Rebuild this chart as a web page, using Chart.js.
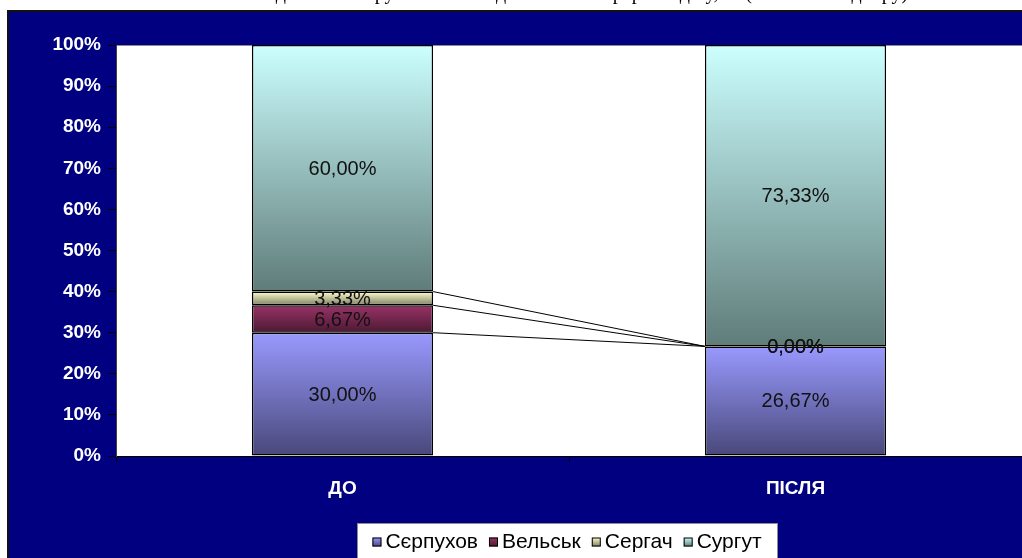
<!DOCTYPE html>
<html><head><meta charset="utf-8">
<script src="https://cdn.jsdelivr.net/npm/chart.js@4"></script>
<style>html,body{margin:0;padding:0;background:#fff;overflow:hidden}</style>
</head><body>
<canvas id="c" width="1022" height="558"></canvas>
<script>
const categories = ['ДО', 'ПІСЛЯ'];
const seriesNames = ['Сєрпухов', 'Вельськ', 'Сергач', 'Сургут'];
const serpukhov = [30.00, 26.67];
const velsk = [6.67, 0.00];
const sergach = [3.33, 0.00];
const surgut = [60.00, 73.33];
const yTicks = [0, 10, 20, 30, 40, 50, 60, 70, 80, 90, 100];
const titleText = 'Співвідношення груп по містах до та після перерозподілу, % (за містом відбору)';

const topColors = ['#9999FF', '#993366', '#FFFFCC', '#CCFFFF'];
const bottomColors = ['#48487A', '#4C1933', '#7E7E66', '#5F7C79'];
const seriesValues = [serpukhov, velsk, sergach, surgut];

function gradFill(si) {
  return (ctx) => {
    const ch = ctx.chart;
    const y = ch.scales && ch.scales.y;
    if (!y || ctx.type !== 'data') return topColors[si];
    const i = ctx.dataIndex;
    let base = 0;
    for (let k = 0; k < ctx.datasetIndex; k++) base += ch.data.datasets[k].data[i];
    const v = ch.data.datasets[ctx.datasetIndex].data[i];
    const y0 = y.getPixelForValue(base + v), y1 = y.getPixelForValue(base);
    if (!isFinite(y0) || !isFinite(y1) || y1 - y0 < 0.5) return topColors[si];
    const g = ch.ctx.createLinearGradient(0, y0, 0, y1);
    g.addColorStop(0, topColors[si]);
    g.addColorStop(1, bottomColors[si]);
    return g;
  };
}

const bgPlugin = {
  id: 'bg',
  beforeDraw(chart) {
    const c = chart.ctx, a = chart.chartArea;
    c.save();
    c.fillStyle = '#fff';
    c.fillRect(0, 0, chart.width, chart.height);
    // cropped title (only the lowest pixels are visible)
    c.save();
    c.beginPath(); c.rect(0, 0, chart.width, 10); c.clip();
    c.fillStyle = '#000';
    c.font = "20px 'Liberation Serif'";
    c.textAlign = 'center';
    c.textBaseline = 'alphabetic';
    c.fillText(titleText, 565, -1);
    c.restore();
    c.fillStyle = '#000080';
    c.fillRect(8, 11, chart.width - 8, chart.height - 11);
    c.strokeStyle = '#111';
    c.lineWidth = 2;
    c.beginPath();
    c.moveTo(8, chart.height); c.lineTo(8, 11); c.lineTo(chart.width, 11);
    c.stroke();
    c.fillStyle = '#fff';
    c.fillRect(a.left, a.top, a.right - a.left, a.bottom - a.top);
    c.strokeStyle = '#8c8c8c';
    c.lineWidth = 1;
    c.beginPath();
    c.moveTo(a.left, a.top + 0.5); c.lineTo(a.right, a.top + 0.5);
    c.stroke();
    c.restore();
  }
};

const linesLabelsPlugin = {
  id: 'linesLabels',
  afterDatasetsDraw(chart) {
    const c = chart.ctx;
    c.save();
    // series lines
    c.strokeStyle = '#000';
    c.lineWidth = 1;
    for (let d = 0; d < chart.data.datasets.length - 1; d++) {
      const meta = chart.getDatasetMeta(d);
      for (let i = 0; i < meta.data.length - 1; i++) {
        const e0 = meta.data[i], e1 = meta.data[i + 1];
        c.beginPath();
        c.moveTo(e0.x + e0.width / 2, e0.y);
        c.lineTo(e1.x - e1.width / 2, e1.y);
        c.stroke();
      }
    }
    // data labels
    c.fillStyle = '#111';
    c.font = "20px 'Liberation Sans'";
    c.textAlign = 'center';
    c.textBaseline = 'middle';
    chart.data.datasets.forEach((ds, d) => {
      const meta = chart.getDatasetMeta(d);
      meta.data.forEach((el, i) => {
        const v = ds.data[i];
        const txt = v.toFixed(2).replace('.', ',') + '%';
        c.fillText(txt, el.x, (el.y + el.base) / 2 + 1);
      });
    });
    c.restore();
  },
  afterDraw(chart) {
    const c = chart.ctx;
    c.save();
    const bx = 357, by = 523, bw = 420, bh = 40;
    c.fillStyle = '#fff';
    c.fillRect(bx, by, bw, bh);
    c.strokeStyle = '#8c8c8c';
    c.lineWidth = 1;
    c.strokeRect(bx + 0.5, by + 0.5, bw, bh);
    c.font = "21px 'Liberation Sans'";
    c.textBaseline = 'middle';
    c.textAlign = 'left';
    const sq = 9, g1 = 4, g2 = 11;
    const widths = seriesNames.map(n => c.measureText(n).width);
    const total = widths.reduce((s, w) => s + w + sq + g1, 0) + g2 * (seriesNames.length - 1);
    let x = bx + (bw - total) / 2;
    const cy = 542;
    seriesNames.forEach((n, k) => {
      const gr = c.createLinearGradient(0, cy - sq / 2, 0, cy + sq / 2);
      gr.addColorStop(0, topColors[k]);
      gr.addColorStop(1, bottomColors[k]);
      c.fillStyle = gr;
      c.fillRect(x, cy - sq / 2, sq, sq);
      c.strokeStyle = '#000';
      c.strokeRect(x + 0.5, cy - sq / 2 + 0.5, sq - 1, sq - 1);
      x += sq + g1;
      c.fillStyle = '#000';
      c.fillText(n, x, cy);
      x += widths[k] + g2;
    });
    c.restore();
  }
};

new Chart(document.getElementById('c'), {
  type: 'bar',
  data: {
    labels: categories,
    datasets: seriesValues.map((vals, k) => ({
      label: seriesNames[k],
      data: vals,
      backgroundColor: gradFill(k),
      borderColor: '#000',
      borderWidth: 1.5,
      borderSkipped: false,
      barPercentage: 0.4,
      categoryPercentage: 1.0
    }))
  },
  options: {
    responsive: false,
    animation: false,
    devicePixelRatio: 1,
    layout: { padding: { top: 45, left: 0, right: 0, bottom: 0 } },
    plugins: { legend: { display: false }, tooltip: { enabled: false }, title: { display: false } },
    scales: {
      x: {
        stacked: true,
        offset: true,
        grid: { offset: true, drawOnChartArea: false, drawTicks: true, tickLength: 6, color: '#000' },
        border: { display: true, color: '#000', width: 1 },
        ticks: { color: '#fff', font: { family: 'Liberation Sans', size: 19, weight: 'bold' }, padding: 15, maxRotation: 0 },
        afterFit(s) { s.height = 102; }
      },
      y: {
        stacked: true,
        min: 0, max: 100,
        afterBuildTicks(s) { s.ticks = yTicks.map(v => ({ value: v })); },
        grid: { drawOnChartArea: false, drawTicks: true, tickLength: 8, color: '#000' },
        border: { display: true, color: '#404040', width: 1 },
        ticks: { color: '#fff', font: { family: 'Liberation Sans', size: 19, weight: 'bold' }, padding: 7, callback: v => v + '%' },
        afterFit(s) { s.width = 116; }
      }
    }
  },
  plugins: [bgPlugin, linesLabelsPlugin]
});
</script>
</body></html>
